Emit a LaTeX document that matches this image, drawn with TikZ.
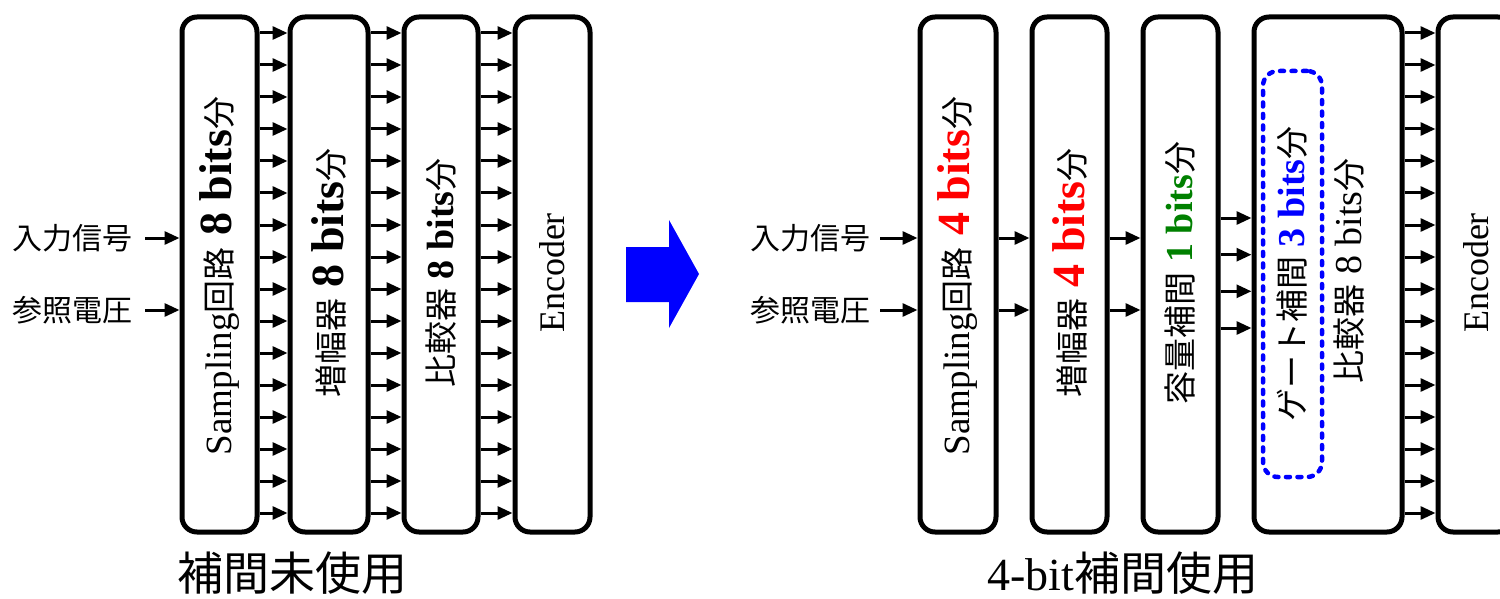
\documentclass[tikz,border=0pt]{standalone}
\usepackage{fontspec}
\setmainfont{Liberation Serif}
\newfontfamily\jp{Noto Sans CJK JP}
\usetikzlibrary{arrows.meta}
\definecolor{myred}{RGB}{255,0,0}
\definecolor{mygreen}{RGB}{0,128,0}
\definecolor{myblue}{RGB}{0,0,255}
\newcommand{\fsz}[1]{\fontsize{#1}{#1}\selectfont}
\begin{document}
\begin{tikzpicture}[x=1pt,y=-1pt,
  blk/.style={draw, line width=5pt, rounded corners=15pt, minimum height=515pt, inner sep=0pt},
  arr/.style={line width=3pt, -{Triangle[length=15pt,width=13pt]}},
  txt/.style={rotate=90, inner sep=0pt},
  lbl/.style={inner sep=0pt, font=\jp\fsz{30}},
  captxt/.style={inner sep=0pt}]
\fill[white] (0,0) rectangle (1500,599);
\useasboundingbox (0,0) rectangle (1500,599);

% ---------- left diagram ----------
\node[blk, minimum width=75pt] (a1) at (219.5,274.5) {};
\node[blk, minimum width=78pt] (a2) at (329,274.5) {};
\node[blk, minimum width=74pt] (a3) at (441,274.5) {};
\node[blk, minimum width=75pt] (a4) at (552.5,274.5) {};

\node[txt] (ta1) at (219.5,276) {\fsz{37}Sampling{\jp\fsz{33}回路}{\bfseries\fsz{46} 8 bits}{\jp\fsz{33}分}};
\node[txt] (ta2) at (329,273) {{\jp\fsz{33}増幅器}{\bfseries\fsz{46} 8 bits}{\jp\fsz{33}分}};
\node[txt] (ta3) at (441,273) {{\jp\fsz{33}比較器}{\bfseries\fsz{38} 8 bits}{\jp\fsz{33}分}};
\node[txt] (ta4) at (552.5,273) {\fsz{36}Encoder};

\foreach \i in {0,...,15}{
  \pgfmathsetmacro{\yy}{33+32*\i}
  \draw[arr] (a1.east |- 0,\yy) -- (a2.west |- 0,\yy);
  \draw[arr] (a2.east |- 0,\yy) -- (a3.west |- 0,\yy);
  \draw[arr] (a3.east |- 0,\yy) -- (a4.west |- 0,\yy);
}

\node[lbl, anchor=west] (inL) at (12,238) {入力信号};
\node[lbl, anchor=west] (refL) at (12,310) {参照電圧};
\draw[arr] ([xshift=13pt]inL.east) -- (a1.west |- inL.east);
\draw[arr] ([xshift=13pt]refL.east) -- (a1.west |- refL.east);

\node[captxt] (capL) at (292,573) {\jp\fsz{46}補間未使用};

% ---------- big blue arrow ----------
\fill[myblue] (626,247) -- (669,247) -- (669,220) -- (699,274) -- (669,328) -- (669,302) -- (626,302) -- cycle;

% ---------- right diagram ----------
\node[blk, minimum width=76pt] (b1) at (958,274.5) {};
\node[blk, minimum width=75pt] (b2) at (1069.5,274.5) {};
\node[blk, minimum width=75pt] (b3) at (1180.5,274.5) {};
\node[blk, minimum width=148pt] (b4) at (1328,274.5) {};
\node[blk, minimum width=75pt] (b5) at (1475.5,274.5) {};

\node[draw=myblue, line width=4.5pt, dash pattern=on 4pt off 7.5pt, line cap=round,
      rounded corners=15pt, minimum width=59pt, minimum height=406pt, inner sep=0pt]
      (gbox) at (1292.5,274) {};

\node[txt] (tb1) at (958,276) {\fsz{37}Sampling{\jp\fsz{33}回路}{\bfseries\fsz{46} \color{myred}4 bits}{\jp\fsz{33}分}};
\node[txt] (tb2) at (1069.5,273) {{\jp\fsz{33}増幅器}{\bfseries\fsz{46} \color{myred}4 bits}{\jp\fsz{33}分}};
\node[txt] (tb3) at (1180.5,273) {{\jp\fsz{33}容量補間}{\bfseries\fsz{38} \color{mygreen}1 bits}{\jp\fsz{33}分}};
\node[txt] (tb4a) at (1292,274) {{\jp\fsz{33}ゲート補間}{\bfseries\fsz{38} \color{myblue}3 bits}{\jp\fsz{33}分}};
\node[txt] (tb4b) at (1349,271) {{\jp\fsz{33}比較器}{\fsz{38} 8 bits}{\jp\fsz{33}分}};
\node[txt] (tb5) at (1476,273) {\fsz{36}Encoder};

\foreach \yy in {238,310}{
  \draw[arr] (b1.east |- 0,\yy) -- (b2.west |- 0,\yy);
  \draw[arr] (b2.east |- 0,\yy) -- (b3.west |- 0,\yy);
}
\foreach \yy in {218,254.7,291.3,328}{
  \draw[arr] (b3.east |- 0,\yy) -- (b4.west |- 0,\yy);
}
\foreach \i in {0,...,15}{
  \pgfmathsetmacro{\yy}{33+32*\i}
  \draw[arr] (b4.east |- 0,\yy) -- (b5.west |- 0,\yy);
}

\node[lbl, anchor=west] (inR) at (750,238) {入力信号};
\node[lbl, anchor=west] (refR) at (750,310) {参照電圧};
\draw[arr] ([xshift=10pt]inR.east) -- (b1.west |- inR.east);
\draw[arr] ([xshift=10pt]refR.east) -- (b1.west |- refR.east);

\node[captxt] (capR) at (1123,573) {\fsz{46}4-bit{\jp 補間使用}};
\end{tikzpicture}
\end{document}
